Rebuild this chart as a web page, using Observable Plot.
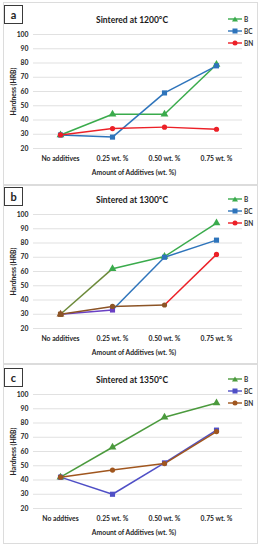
<!DOCTYPE html>
<html><head><meta charset="utf-8">
<script src="https://cdn.jsdelivr.net/npm/d3@7"></script>
<script src="https://cdn.jsdelivr.net/npm/@observablehq/plot@0.6"></script>
<style>
body{margin:0;background:#fff;font-family:Lato,sans-serif;}
#root{position:relative;width:262px;height:550px;overflow:hidden;}
.box{position:absolute;left:3px;width:255px;border:1px solid #dcdcdc;box-sizing:border-box;}
.letter{position:absolute;left:4px;width:19px;height:19px;border:1.3px solid #3a3a3a;box-sizing:border-box;font:700 11px Lato,sans-serif;display:flex;align-items:center;justify-content:center;color:#222;background:#fff;}
.plot{position:absolute;left:0;}
.legend{position:absolute;left:228px;font:700 6.5px Lato,sans-serif;color:#333;}
.legend div{height:12px;display:flex;align-items:center;}
.legend svg{margin-right:2px;}
</style></head><body><div id="root"></div>
<script>
// ---------------- data ----------------
const categoriesAB = ["No additives", "0.25 wt. %", "0.50 wt. %", "0.75 wt. %"];
const categoriesC  = ["No addtives", "0.25 wt. %", "0.50 wt. %", "0.75 wt. %"];
const seriesNames = ["B", "BC", "BN"];
const panelLetters = ["a", "b", "c"];
const panelTitles = ["Sintered at 1200°C", "Sintered at 1300°C", "Sintered at 1350°C"];
const yTicks = [20, 30, 40, 50, 60, 70, 80, 90, 100];
const xLabel = "Amount of Additives (wt. %)";
const yLabel = "Hardness (HRB)";

const a_B  = [29.5, 44, 44, 79];
const a_BC = [29.5, 28, 59, 78];
const a_BN = [29.5, 34, 35, 33.5];

const b_B  = [30, 62, 70.5, 94];
const b_BC = [30, 33, 70, 82];
const b_BN = [30, 35.5, 36.5, 72];

const c_B  = [42, 63, 84, 94];
const c_BC = [42, 30, 52, 75];
const c_BN = [42, 47, 51.5, 74];

// ---------------- styles ----------------
const GREEN = "#3aab4c", BLUE = "#2e74bb", RED = "#ec2027";
const PURPLE = "#6a40c4", BROWN = "#8c5426", OLIVE = "#6c8a3a";
const C_GREEN = "#4b9a3d", C_BLUE = "#4f4fc6", C_BROWN = "#a0561e";
const symbols = {B: "triangle", BC: "square", BN: "circle"};
const panelStyles = [
  { legend: {B: GREEN, BC: BLUE, BN: RED},
    seg: {B: [GREEN, GREEN, GREEN], BC: [BLUE, BLUE, BLUE], BN: [RED, RED, RED]},
    pt:  {B: [GREEN, GREEN, GREEN, GREEN], BC: [BLUE, BLUE, BLUE, BLUE], BN: [RED, RED, RED, RED]} },
  { legend: {B: GREEN, BC: BLUE, BN: RED},
    seg: {B: [OLIVE, GREEN, GREEN], BC: [PURPLE, BLUE, BLUE], BN: [BROWN, BROWN, RED]},
    pt:  {B: [BROWN, GREEN, GREEN, GREEN], BC: [BROWN, PURPLE, BLUE, BLUE], BN: [BROWN, BROWN, BROWN, RED]} },
  { legend: {B: C_GREEN, BC: C_BLUE, BN: C_BROWN},
    seg: {B: [C_GREEN, C_GREEN, C_GREEN], BC: [C_BLUE, C_BLUE, C_BLUE], BN: [C_BROWN, C_BROWN, C_BROWN]},
    pt:  {B: [C_GREEN, C_GREEN, C_GREEN, C_GREEN], BC: [C_BLUE, C_BLUE, C_BLUE, C_BLUE], BN: [C_BROWN, C_BROWN, C_BROWN, C_BROWN]} }
];
const svgTops = [2, 182, 362];
const boxes = [[2, 183], [185, 179], [364, 180]];
const letterTops = [5, 187, 368];

const panelData = [
  {cats: categoriesAB, values: {B: a_B, BC: a_BC, BN: a_BN}},
  {cats: categoriesAB, values: {B: b_B, BC: b_BC, BN: b_BN}},
  {cats: categoriesC,  values: {B: c_B, BC: c_BC, BN: c_BN}}
];

const root = document.getElementById("root");

panelData.forEach((pd, p) => {
  const st = panelStyles[p];
  const box = document.createElement("div");
  box.className = "box";
  box.style.top = boxes[p][0] + "px";
  box.style.height = boxes[p][1] + "px";
  root.appendChild(box);

  const segs = [], pts = [];
  seriesNames.forEach(s => {
    const v = pd.values[s];
    v.forEach((y, i) => {
      pts.push({s, i, x: pd.cats[i], y});
      if (i < v.length - 1) segs.push({s, i, x1: pd.cats[i], y1: y, x2: pd.cats[i + 1], y2: v[i + 1]});
    });
  });

  const marks = [
    Plot.gridY(yTicks, {stroke: "#d9d9d9", strokeOpacity: 1, strokeWidth: 0.8}),
    Plot.axisY(yTicks, {tickSize: 0, tickPadding: 5, label: yLabel, labelAnchor: "center", labelOffset: 22, labelArrow: "none"}),
    Plot.axisX(pd.cats, {tickSize: 0, tickPadding: 8, label: null}),
    Plot.text([xLabel], {text: d => d, frameAnchor: "bottom", dx: -4, dy: 24, lineAnchor: "middle", fontSize: 6.8, fontWeight: 700, fill: "#262626"}),
    Plot.link(segs, {x1: "x1", y1: "y1", x2: "x2", y2: "y2", stroke: d => st.seg[d.s][d.i], strokeWidth: 1.5})
  ];
  seriesNames.forEach(s => {
    marks.push(Plot.dot(pts.filter(d => d.s === s), {
      x: "x", y: "y", symbol: symbols[s], r: s === "BN" ? 2.6 : 2.9,
      fill: d => st.pt[s][d.i], stroke: "none"
    }));
  });
  marks.push(Plot.text([panelTitles[p]], {text: d => d, frameAnchor: "top", dx: -6, dy: -18, fontSize: 8.5, fontWeight: 700, fill: "#1a1a1a"}));

  const chart = Plot.plot({
    width: 262, height: 180,
    marginLeft: 33, marginRight: 20, marginTop: 32, marginBottom: 34,
    x: {type: "point", domain: pd.cats, padding: 0.5, label: null},
    y: {domain: [20, 100], label: null},
    style: {fontFamily: "Lato, sans-serif", fontSize: "6.8px", fontWeight: 700, color: "#262626", background: "transparent"},
    marks
  });
  chart.classList.add("plot");
  chart.style.top = svgTops[p] + "px";
  root.appendChild(chart);

  const letter = document.createElement("div");
  letter.className = "letter";
  letter.style.top = letterTops[p] + "px";
  letter.textContent = panelLetters[p];
  root.appendChild(letter);

  const leg = document.createElement("div");
  leg.className = "legend";
  leg.style.top = (svgTops[p] + 11) + "px";
  seriesNames.forEach(s => {
    const row = document.createElement("div");
    const c = st.legend[s];
    let marker;
    if (s === "B") marker = `<polygon points="7,0.5 10,5.5 4,5.5" fill="${c}"/>`;
    else if (s === "BC") marker = `<rect x="4.5" y="0.5" width="5" height="5" fill="${c}"/>`;
    else marker = `<circle cx="7" cy="3" r="2.5" fill="${c}"/>`;
    row.innerHTML = `<svg width="14" height="6"><line x1="0" y1="3" x2="14" y2="3" stroke="${c}" stroke-width="1.4"/>${marker}</svg><span>${s}</span>`;
    leg.appendChild(row);
  });
  root.appendChild(leg);
});
</script>
</body></html>
